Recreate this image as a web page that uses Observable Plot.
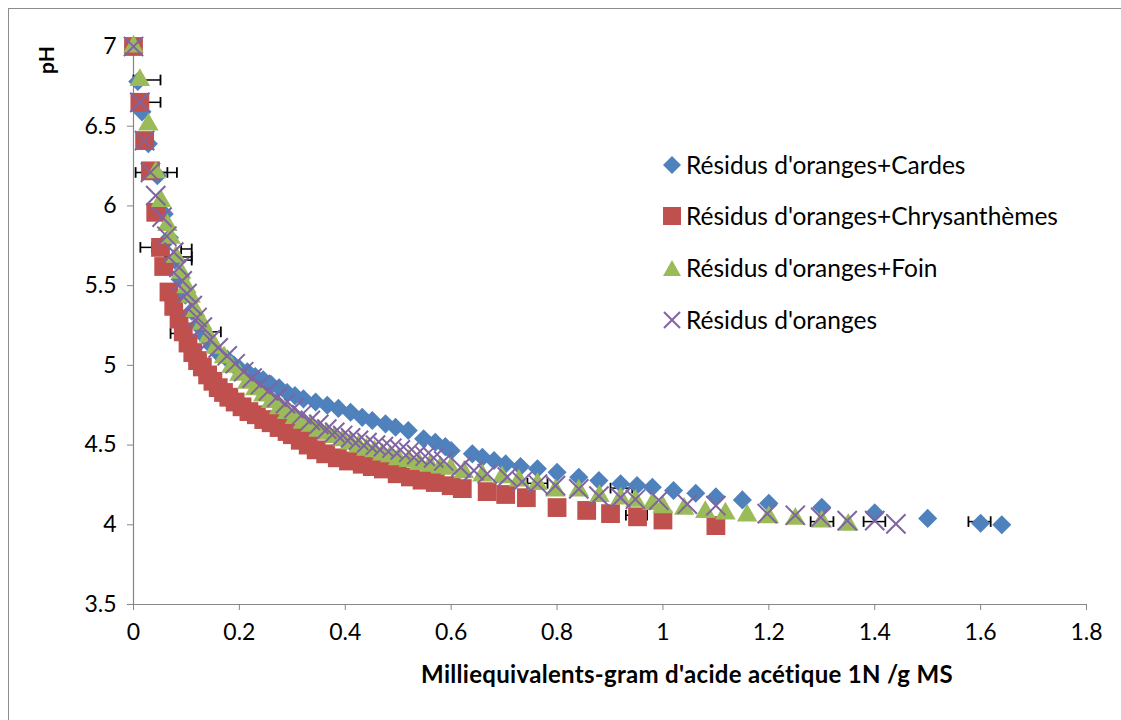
<!DOCTYPE html>
<html>
<head>
<meta charset="utf-8">
<script src="https://cdn.jsdelivr.net/npm/d3@7"></script>
<script src="https://cdn.jsdelivr.net/npm/@observablehq/plot@0.6"></script>
<style>
  html, body { margin: 0; padding: 0; background: #fff; }
  #wrap { position: relative; width: 1121px; height: 720px; overflow: hidden; font-family: Lato, "Open Sans", sans-serif; color: #000; }
  #frame { position: absolute; left: 8px; top: 8px; width: 1130px; height: 730px; border: 1px solid #8c8c8c; box-sizing: border-box; }
  #chart { position: absolute; left: 0; top: 0; }
  .leg { position: absolute; left: 662px; display: flex; align-items: center; font-size: 24.5px; white-space: nowrap; }
  .leg svg { width: 20px; height: 20px; margin-right: 4px; }
  #xtitle { position: absolute; left: 0; width: 1374px; top: 659px; text-align: center; font-weight: bold; font-size: 24px; letter-spacing: 0.3px; }
  #ytitle { position: absolute; left: 45px; top: 60px; transform: translate(-50%, -50%) rotate(-90deg); font-weight: bold; font-size: 21px; }
</style>
</head>
<body>
<div id="wrap">
  <div id="frame"></div>
  <div id="chart"></div>
  <div id="legend"></div>
  <div id="xtitle"></div>
  <div id="ytitle"></div>
</div>
<script>
// ---- Data ----
const seriesNames = ["Résidus d'oranges+Cardes", "Résidus d'oranges+Chrysanthèmes", "Résidus d'oranges+Foin", "Résidus d'oranges"];
const xTitle = "Milliequivalents-gram d'acide acétique 1N /g MS";
const yTitle = "pH";
const xTicks = [0, 0.2, 0.4, 0.6, 0.8, 1, 1.2, 1.4, 1.6, 1.8];
const yTicks = [3.5, 4, 4.5, 5, 5.5, 6, 6.5, 7];

const cardesX = [0, 0.008, 0.016, 0.028, 0.045, 0.058, 0.068, 0.078, 0.088, 0.098, 0.110, 0.122, 0.135, 0.148, 0.162, 0.177, 0.19, 0.2, 0.215, 0.23, 0.245, 0.26, 0.275, 0.29, 0.305, 0.321, 0.344, 0.366, 0.387, 0.41, 0.432, 0.451, 0.476, 0.495, 0.519, 0.548, 0.57, 0.589, 0.60, 0.64, 0.659, 0.681, 0.703, 0.731, 0.763, 0.80, 0.841, 0.879, 0.92, 0.951, 0.98, 1.02, 1.062, 1.10, 1.15, 1.20, 1.30, 1.40, 1.50, 1.60, 1.64];
const cardesPH = [7, 6.78, 6.59, 6.39, 6.19, 5.95, 5.80, 5.66, 5.54, 5.44, 5.34, 5.25, 5.18, 5.12, 5.07, 5.04, 5.00, 4.98, 4.96, 4.93, 4.91, 4.88, 4.86, 4.83, 4.81, 4.79, 4.77, 4.75, 4.73, 4.706, 4.674, 4.654, 4.633, 4.612, 4.591, 4.54, 4.518, 4.49, 4.465, 4.445, 4.423, 4.403, 4.382, 4.365, 4.351, 4.329, 4.298, 4.277, 4.257, 4.246, 4.235, 4.215, 4.198, 4.175, 4.156, 4.135, 4.11, 4.075, 4.04, 4.01, 4.00];

const chrysX = [0, 0.012, 0.021, 0.032, 0.042, 0.051, 0.057, 0.067, 0.076, 0.086, 0.094, 0.103, 0.112, 0.121, 0.130, 0.140, 0.150, 0.160, 0.170, 0.180, 0.192, 0.205, 0.218, 0.232, 0.246, 0.260, 0.275, 0.29, 0.30, 0.315, 0.33, 0.345, 0.363, 0.385, 0.406, 0.432, 0.451, 0.472, 0.498, 0.523, 0.545, 0.57, 0.60, 0.621, 0.668, 0.703, 0.742, 0.80, 0.856, 0.901, 0.952, 1.0, 1.1];
const chrysPH = [7, 6.65, 6.41, 6.22, 5.96, 5.74, 5.62, 5.46, 5.37, 5.29, 5.21, 5.14, 5.08, 5.03, 4.99, 4.94, 4.90, 4.86, 4.83, 4.80, 4.77, 4.74, 4.71, 4.69, 4.66, 4.64, 4.61, 4.585, 4.565, 4.53, 4.50, 4.47, 4.445, 4.42, 4.40, 4.38, 4.365, 4.35, 4.32, 4.30, 4.28, 4.265, 4.245, 4.227, 4.208, 4.19, 4.17, 4.108, 4.09, 4.07, 4.05, 4.03, 3.995];

const foinX = [0, 0.012, 0.028, 0.042, 0.052, 0.064, 0.07, 0.08, 0.09, 0.10, 0.108, 0.117, 0.13, 0.142, 0.155, 0.171, 0.185, 0.20, 0.215, 0.23, 0.245, 0.26, 0.275, 0.29, 0.305, 0.32, 0.335, 0.35, 0.365, 0.38, 0.395, 0.41, 0.425, 0.44, 0.455, 0.47, 0.485, 0.50, 0.52, 0.54, 0.56, 0.58, 0.599, 0.624, 0.659, 0.696, 0.728, 0.763, 0.797, 0.841, 0.88, 0.92, 0.948, 0.98, 1.0, 1.04, 1.08, 1.118, 1.159, 1.20, 1.25, 1.30, 1.35];
const foinPH = [7, 6.79, 6.51, 6.21, 6.03, 5.88, 5.80, 5.68, 5.58, 5.49, 5.43, 5.34, 5.26, 5.18, 5.11, 5.05, 4.99, 4.94, 4.89, 4.85, 4.81, 4.77, 4.73, 4.70, 4.67, 4.64, 4.62, 4.59, 4.57, 4.55, 4.53, 4.51, 4.49, 4.47, 4.46, 4.44, 4.43, 4.41, 4.40, 4.38, 4.37, 4.36, 4.351, 4.329, 4.309, 4.298, 4.277, 4.256, 4.215, 4.215, 4.18, 4.165, 4.15, 4.13, 4.11, 4.10, 4.08, 4.07, 4.058, 4.047, 4.037, 4.02, 4.00];

const orangesX = [0, 0.012, 0.021, 0.032, 0.042, 0.054, 0.063, 0.076, 0.086, 0.092, 0.101, 0.111, 0.12, 0.13, 0.145, 0.16, 0.177, 0.192, 0.208, 0.224, 0.24, 0.255, 0.271, 0.287, 0.303, 0.318, 0.334, 0.35, 0.365, 0.38, 0.395, 0.41, 0.425, 0.441, 0.457, 0.472, 0.488, 0.504, 0.52, 0.535, 0.551, 0.567, 0.586, 0.618, 0.643, 0.668, 0.706, 0.734, 0.763, 0.797, 0.841, 0.879, 0.92, 0.948, 0.992, 1.046, 1.10, 1.197, 1.25, 1.298, 1.348, 1.40, 1.44];
const orangesPH = [7, 6.65, 6.41, 6.21, 6.065, 5.93, 5.81, 5.71, 5.615, 5.53, 5.45, 5.375, 5.30, 5.24, 5.16, 5.11, 5.06, 5.01, 4.96, 4.92, 4.88, 4.84, 4.80, 4.76, 4.73, 4.69, 4.655, 4.63, 4.60, 4.58, 4.56, 4.545, 4.53, 4.515, 4.50, 4.49, 4.48, 4.47, 4.455, 4.44, 4.43, 4.42, 4.40, 4.36, 4.34, 4.32, 4.30, 4.27, 4.256, 4.246, 4.225, 4.18, 4.17, 4.16, 4.155, 4.13, 4.12, 4.07, 4.06, 4.047, 4.026, 4.026, 4.006];

// horizontal error bars
const errPH = [6.79, 6.65, 6.21, 6.21, 5.74, 5.73, 5.68, 5.66, 5.20, 5.21, 4.26, 4.23, 4.06, 4.02, 4.02, 4.02];
const errX1 = [0.0, 0.0, 0.004, 0.02, 0.013, 0.09, 0.06, 0.06, 0.07, 0.135, 0.744, 0.901, 0.93, 1.279, 1.379, 1.577];
const errX2 = [0.051, 0.051, 0.064, 0.082, 0.035, 0.11, 0.11, 0.11, 0.09, 0.165, 0.782, 0.942, 0.97, 1.322, 1.42, 1.619];

const colors = ["#4F81BD", "#C0504D", "#9BBB59", "#8064A2"];

// ---- build tables ----
const toRows = (xs, ys) => xs.map((x, i) => ({x, y: ys[i]}));
const cardes = toRows(cardesX, cardesPH);
const chrys = toRows(chrysX, chrysPH);
const foin = toRows(foinX, foinPH);
const oranges = toRows(orangesX, orangesPH);
const errs = errPH.map((y, i) => ({y, x1: errX1[i], x2: errX2[i]}));
const capPts = errs.flatMap(d => [{x: d.x1, y: d.y}, {x: d.x2, y: d.y}]);

const vline = { draw(ctx, size) { const r = Math.sqrt(size) / 2; ctx.moveTo(0, -r); ctx.lineTo(0, r); } };

const plot = Plot.plot({
  width: 1121,
  height: 720,
  marginLeft: 133,
  marginRight: 35,
  marginTop: 46,
  marginBottom: 116,
  style: { fontFamily: "Lato, 'Open Sans', sans-serif", fontSize: "23px", color: "#000", background: "transparent", overflow: "visible" },
  x: { domain: [0, 1.8] },
  y: { domain: [3.5, 7] },
  marks: [
    Plot.ruleX([0], { stroke: "#868686", strokeWidth: 1.2 }),
    Plot.ruleY([3.5], { stroke: "#868686", strokeWidth: 1.2 }),
    Plot.axisX(xTicks, { tickSize: 6, tickPadding: 13, stroke: "#868686", fill: "#000", label: null, tickFormat: d => String(d) }),
    Plot.axisY(yTicks, { tickSize: 6, tickPadding: 11, stroke: "#868686", fill: "#000", label: null, tickFormat: d => String(d) }),
    Plot.link(errs, { x1: "x1", x2: "x2", y1: "y", y2: "y", stroke: "#000", strokeWidth: 1.5 }),
    Plot.dot(capPts, { x: "x", y: "y", symbol: vline, r: 6, stroke: "#000", strokeWidth: 1.8, fill: "none" }),
    Plot.dot(cardes, { x: "x", y: "y", symbol: "diamond2", r: 8.6, fill: colors[0], stroke: null }),
    Plot.dot(chrys, { x: "x", y: "y", symbol: "square", r: 10.6, fill: colors[1], stroke: null }),
    Plot.dot(foin, { x: "x", y: "y", symbol: "triangle", r: 7.6, fill: colors[2], stroke: null }),
    Plot.dot(oranges, { x: "x", y: "y", symbol: "times", r: 8.8, stroke: colors[3], strokeWidth: 2, fill: "none" })
  ]
});
document.getElementById("chart").appendChild(plot);

// ---- legend ----
const legRows = [165, 216, 268, 320];
const legSyms = [
  `<polygon points="10,1 19,10 10,19 1,10" fill="${colors[0]}"/>`,
  `<rect x="1" y="1" width="18" height="18" fill="${colors[1]}"/>`,
  `<polygon points="10,2 19,18 1,18" fill="${colors[2]}"/>`,
  `<path d="M2,2L18,18M18,2L2,18" stroke="${colors[3]}" stroke-width="2"/>`
];
const legend = document.getElementById("legend");
seriesNames.forEach((name, i) => {
  const row = document.createElement("div");
  row.className = "leg";
  row.style.top = (legRows[i] - 15) + "px";
  row.innerHTML = `<svg viewBox="0 0 20 20">${legSyms[i]}</svg><span>${name}</span>`;
  legend.appendChild(row);
});
document.getElementById("xtitle").textContent = xTitle;
document.getElementById("ytitle").textContent = yTitle;
</script>
</body>
</html>
